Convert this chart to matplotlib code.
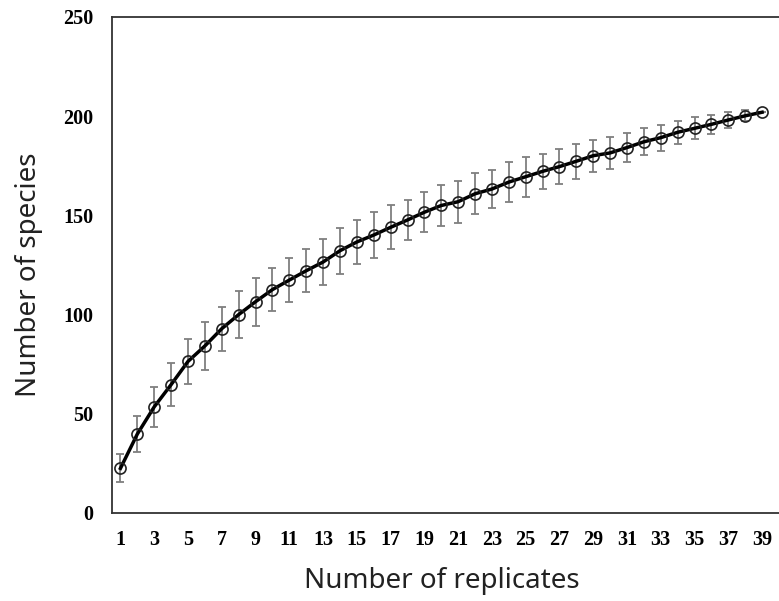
import matplotlib
matplotlib.use("Agg")
import matplotlib.pyplot as plt

# -----------------
# DATA
# -----------------
replicates = list(range(1, 40))
species = [22.5, 39.8, 53.5, 64.7, 76.4, 84.2, 92.9, 100.0, 106.5, 112.6,
           117.4, 122.1, 126.5, 132.2, 136.6, 140.1, 144.0, 147.7, 151.6, 155.0,
           156.9, 160.9, 163.3, 166.8, 169.5, 172.2, 174.6, 177.3, 180.1, 181.5,
           184.2, 187.1, 189.2, 191.9, 193.9, 195.9, 198.1, 200.2, 202.0]
sd = [7.0, 9.0, 10.2, 10.7, 11.3, 12.0, 11.0, 11.7, 12.0, 11.0,
      11.3, 10.8, 11.7, 11.7, 11.3, 11.5, 11.0, 10.2, 10.1, 10.2,
      10.5, 10.3, 9.7, 10.0, 10.0, 8.9, 9.0, 8.8, 8.0, 8.1,
      7.4, 6.9, 6.6, 5.8, 5.5, 4.9, 4.1, 2.7, 0.0]
xtick_labels = [str(i) for i in range(1, 40, 2)]

# -----------------
# PLOT
# -----------------
W, H = 779, 601
fig = plt.figure(figsize=(W / 100, H / 100), dpi=100)
ax = fig.add_axes([112 / W, (H - 513) / H, (W - 112) / W, (513 - 17) / H])

ax.errorbar(replicates, species, yerr=sd, fmt='none', ecolor='#7f7f7f',
            elinewidth=1.3, capsize=3, capthick=1.3, zorder=2)
ax.plot(replicates, species, color='black', linewidth=2.5, zorder=3)
ax.plot(replicates, species, linestyle='none', marker='o', markersize=8,
        markerfacecolor='none', markeredgecolor='#222222', markeredgewidth=1.2, zorder=4)

ax.set_xlim(0.5, 40)
ax.set_ylim(0, 250)
ax.set_xticks(range(1, 40, 2))
ax.set_xticklabels(xtick_labels)
ax.set_yticks([0, 50, 100, 150, 200, 250])

for lab in ax.get_xticklabels() + ax.get_yticklabels():
    lab.set_fontfamily('Liberation Serif')
    lab.set_fontweight('bold')
    lab.set_fontsize(14.5)
ax.tick_params(axis='both', length=0)
ax.tick_params(axis='y', pad=13.5)
ax.tick_params(axis='x', pad=12)

for side in ['top', 'left', 'bottom']:
    ax.spines[side].set_color('#333333')
    ax.spines[side].set_linewidth(1.3)
ax.spines['right'].set_visible(False)

ax.set_xlabel('Number of replicates', fontfamily='Noto Sans', fontsize=20, color='#222222')
ax.set_ylabel('Number of species', fontfamily='Noto Sans', fontsize=20, color='#222222')
ax.xaxis.set_label_coords(0.494, -0.108)
ax.yaxis.set_label_coords(-0.103, 0.48)

plt.savefig('out.png', dpi=100)
